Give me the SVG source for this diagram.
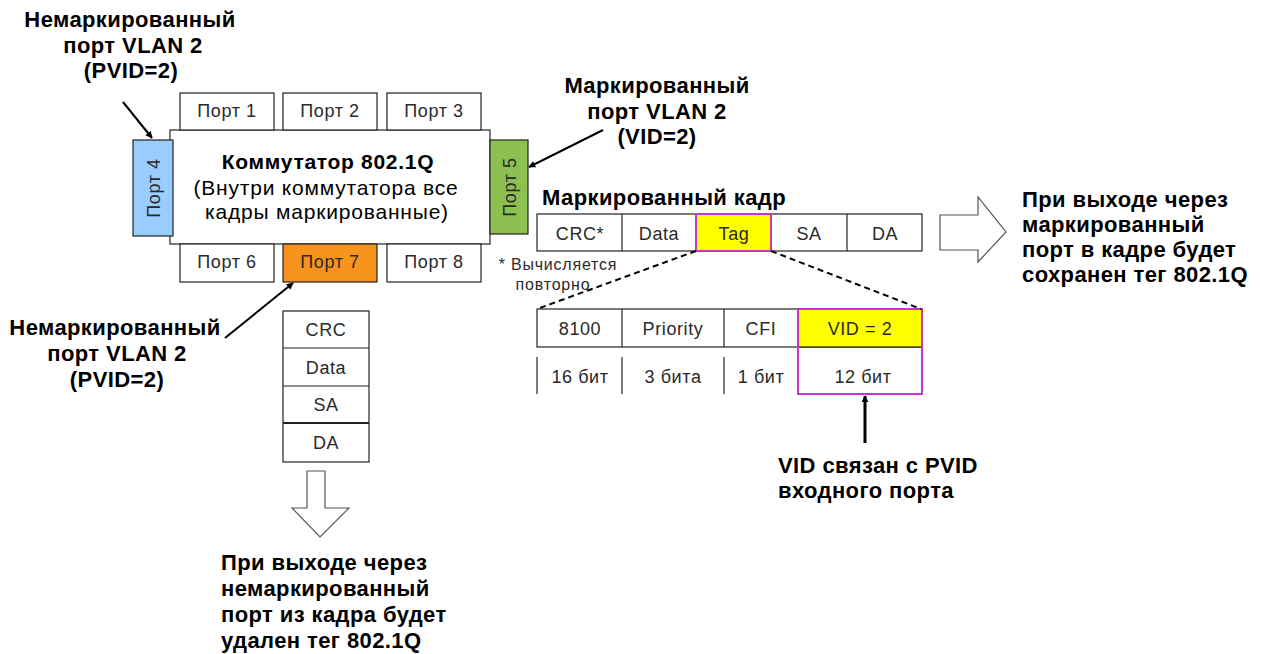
<svg xmlns="http://www.w3.org/2000/svg" width="1261" height="654" viewBox="0 0 1261 654">
<defs>
<marker id="ah" viewBox="0 0 10 10" refX="9" refY="5" markerWidth="7" markerHeight="7" orient="auto-start-reverse" markerUnits="userSpaceOnUse">
<path d="M0,0 L10,5 L0,10 z" fill="#000"/>
</marker>
<style>
.b{fill:#fff;stroke:#222;stroke-width:1.2}
.t{font-family:"Liberation Sans",Arial,sans-serif;font-size:18px;letter-spacing:0.6px;fill:#2a2a2a;text-anchor:middle}
.h{font-family:"Liberation Sans",Arial,sans-serif;font-size:22px;letter-spacing:0.4px;font-weight:bold;fill:#000}
.m{font-family:"Liberation Sans",Arial,sans-serif;font-size:21px;letter-spacing:0.8px;fill:#000;text-anchor:middle}
.c{text-anchor:middle}
.ln{stroke:#000;stroke-width:2;fill:none}
.ds{stroke:#000;stroke-width:2;stroke-dasharray:6,4;fill:none}
.ha{fill:#fff;stroke:#555;stroke-width:1.2}
</style>
</defs>
<rect width="1261" height="654" fill="#fff"/>

<g id="switch">
<rect class="b" x="170" y="130" width="320" height="114"/>
<text class="h c" x="328" y="169" style="font-size:21px;letter-spacing:0.7px">Коммутатор 802.1Q</text>
<text class="m" x="326" y="195">(Внутри коммутатора все</text>
<text class="m" x="327" y="219">кадры маркированные)</text>
</g>
<g id="port1"><rect class="b" x="180" y="93" width="94" height="37"/><text class="t" x="227" y="117">Порт 1</text></g>
<g id="port2"><rect class="b" x="283" y="93" width="94" height="37"/><text class="t" x="330" y="117">Порт 2</text></g>
<g id="port3"><rect class="b" x="387" y="93" width="94" height="37"/><text class="t" x="434" y="117">Порт 3</text></g>
<g id="port6"><rect class="b" x="180" y="244" width="94" height="38"/><text class="t" x="227" y="268">Порт 6</text></g>
<g id="port7"><rect class="b" x="283" y="244" width="94" height="38" style="fill:#f7941d"/><text class="t" x="330" y="268">Порт 7</text></g>
<g id="port8"><rect class="b" x="387" y="244" width="94" height="38"/><text class="t" x="434" y="268">Порт 8</text></g>
<g id="port4"><rect class="b" x="133" y="140" width="40" height="96" style="fill:#99ccff"/><text class="t" transform="translate(160,188) rotate(-90)">Порт 4</text></g>
<g id="port5"><rect class="b" x="490" y="140" width="38" height="94" style="fill:#8cc152"/><text class="t" transform="translate(516,187) rotate(-90)">Порт 5</text></g>

<g id="label-untagged-top">
<text class="h c" x="130" y="27">Немаркированный</text>
<text class="h c" x="133" y="53">порт VLAN 2</text>
<text class="h c" x="131" y="78">(PVID=2)</text>
</g>
<g id="label-tagged">
<text class="h c" x="657" y="93">Маркированный</text>
<text class="h c" x="657" y="119">порт VLAN 2</text>
<text class="h c" x="657" y="144">(VID=2)</text>
</g>
<g id="label-untagged-bottom">
<text class="h c" x="115" y="335">Немаркированный</text>
<text class="h c" x="117" y="361">порт VLAN 2</text>
<text class="h c" x="117" y="387">(PVID=2)</text>
</g>

<g id="tagged-frame">
<text class="h" x="542" y="205">Маркированный кадр</text>
<rect class="b" x="537" y="214" width="385" height="37"/>
<line class="b" x1="622" y1="214" x2="622" y2="251"/>
<line class="b" x1="847" y1="214" x2="847" y2="251"/>
<rect x="696" y="214" width="75" height="37" fill="#ffff00" stroke="#cc33cc" stroke-width="2"/>
<text class="t" x="580" y="240">CRC*</text>
<text class="t" x="659" y="240">Data</text>
<text class="t" x="734" y="240">Tag</text>
<text class="t" x="809" y="240">SA</text>
<text class="t" x="885" y="240">DA</text>
</g>
<g id="note">
<text class="t" x="558" y="270" style="font-size:16px;letter-spacing:0.8px">* Вычисляется</text>
<text class="t" x="553" y="290" style="font-size:16px;letter-spacing:0.8px">повторно</text>
</g>

<g id="tag-detail">
<rect class="b" x="537" y="309" width="385" height="38"/>
<line class="b" x1="622" y1="309" x2="622" y2="347"/>
<line class="b" x1="724" y1="309" x2="724" y2="347"/>
<rect x="798" y="309" width="124" height="38" fill="#ffff00" stroke="#222" stroke-width="1.2"/>
<line class="b" x1="537" y1="357" x2="537" y2="394"/>
<line class="b" x1="622" y1="357" x2="622" y2="394"/>
<line class="b" x1="724" y1="357" x2="724" y2="394"/>
<rect x="798" y="309" width="124" height="85" fill="none" stroke="#cc33cc" stroke-width="2"/>
<text class="t" x="580" y="335">8100</text>
<text class="t" x="673" y="335">Priority</text>
<text class="t" x="761" y="335">CFI</text>
<text class="t" x="860" y="335">VID  = 2</text>
<text class="t" x="580" y="383">16 бит</text>
<text class="t" x="673" y="383">3 бита</text>
<text class="t" x="761" y="383">1 бит</text>
<text class="t" x="863" y="383">12 бит</text>
</g>
<g id="label-vid">
<text class="h" x="778" y="473">VID связан с PVID</text>
<text class="h" x="778" y="498">входного порта</text>
</g>

<g id="untagged-frame">
<rect class="b" x="283" y="311" width="86" height="151"/>
<line class="b" x1="283" y1="348" x2="369" y2="348"/>
<line class="b" x1="283" y1="386" x2="369" y2="386"/>
<line x1="283" y1="423" x2="369" y2="423" stroke="#222" stroke-width="2"/>
<text class="t" x="326" y="336">CRC</text>
<text class="t" x="326" y="374">Data</text>
<text class="t" x="326" y="411">SA</text>
<text class="t" x="326" y="449">DA</text>
</g>

<g id="label-right">
<text class="h" x="1022" y="207">При выходе через</text>
<text class="h" x="1022" y="232">маркированный</text>
<text class="h" x="1022" y="257">порт в кадре будет</text>
<text class="h" x="1022" y="282">сохранен тег 802.1Q</text>
</g>
<g id="label-bottom">
<text class="h" x="221" y="570">При выходе через</text>
<text class="h" x="221" y="596">немаркированный</text>
<text class="h" x="221" y="622">порт из кадра будет</text>
<text class="h" x="221" y="648">удален тег 802.1Q</text>
</g>

<g id="connectors">
<line class="ln" x1="123" y1="102" x2="152" y2="138" marker-end="url(#ah)"/>
<line class="ln" x1="603" y1="130" x2="529" y2="167" marker-end="url(#ah)"/>
<line class="ln" x1="225" y1="338" x2="293" y2="283" marker-end="url(#ah)"/>
<line class="ln" x1="865" y1="443" x2="865" y2="396" marker-end="url(#ah)" style="stroke-width:3"/>
<line class="ds" x1="696" y1="251" x2="537" y2="309"/>
<line class="ds" x1="771" y1="251" x2="921" y2="309"/>
<path class="ha" d="M940,215 H978 V197 L1006,232 L978,262 V250 H940 Z"/>
<path class="ha" d="M307,471 H325 V508 H349 L320,537 L292,508 H307 Z"/>
</g>
</svg>
